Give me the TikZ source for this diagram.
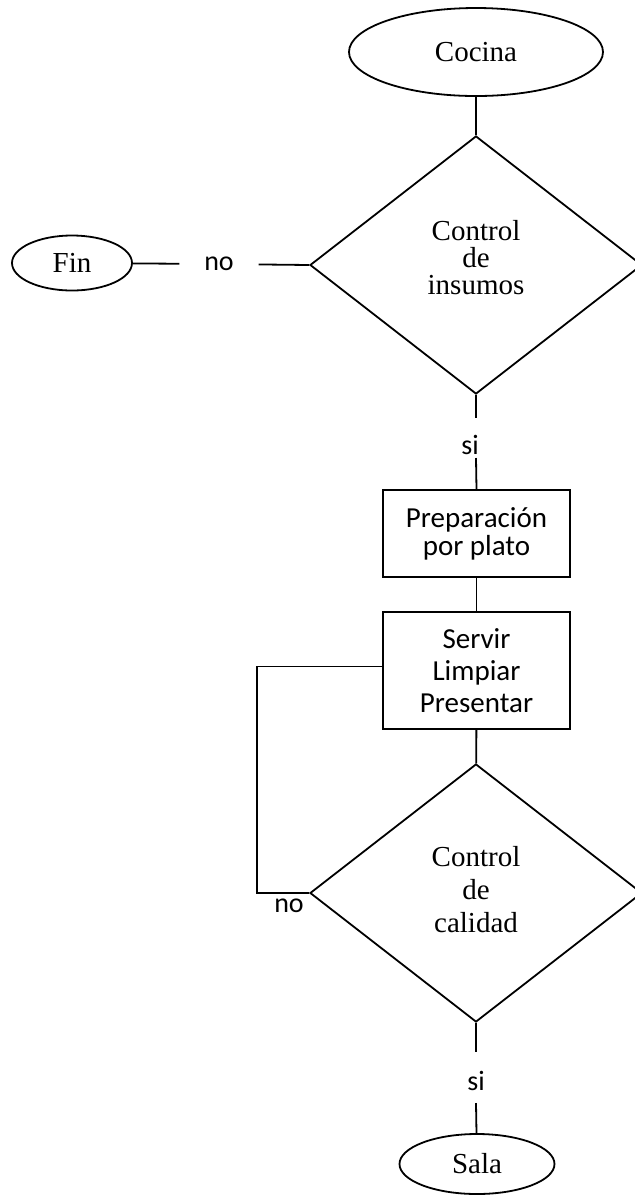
\documentclass[tikz,border=0pt]{standalone}
\usepackage{fontspec}
\setmainfont{Liberation Serif}
\newfontfamily\calibri{Carlito}
\usetikzlibrary{positioning,shapes.geometric}

\begin{document}
\begin{tikzpicture}[x=0.5pt,y=-0.5pt,line width=0.9pt,
  terminal/.style={draw,ellipse,inner sep=0pt,font=\fontsize{14.5}{17}\selectfont},
  decision/.style={draw,diamond,inner sep=0pt,minimum width=166pt,minimum height=129pt,align=center},
  process/.style={draw,rectangle,inner sep=0pt,minimum width=93.5pt,align=center},
  answer/.style={inner sep=0pt,font=\calibri\fontsize{14}{16}\selectfont}]
\useasboundingbox (0,0) rectangle (635,1196);

\node[terminal,minimum width=127pt,minimum height=44pt] (cocina) at (476,52) {Cocina};
\node[decision,text depth=8pt,font=\fontsize{14.5}{13.5}\selectfont] (insumos) at (476,265) {Control\\de\\insumos};
\node[terminal,minimum width=60pt,minimum height=27.5pt] (fin) at (72,263) {Fin};
\node[answer,inner xsep=12pt] (noA) at (219,264) {no};
\node[answer] (siA) at (470,445) {si};
\node[process,minimum height=43.5pt,font=\calibri\fontsize{14.5}{14}\selectfont] (prep) at (476.5,533.5) {Preparación\\por plato};
\node[process,minimum height=58.5pt,font=\calibri\fontsize{14.5}{16}\selectfont] (servir) at (476.5,670.5) {Servir\\Limpiar\\Presentar};
\node[decision,text depth=4pt,font=\fontsize{14.5}{16.5}\selectfont] (calidad) at (476,893) {Control\\de\\calidad};
\node[answer] (noB) at (289,906) {no};
\node[answer] (siB) at (476,1081) {si};
\node[terminal,minimum width=77.5pt,minimum height=30pt] (sala) at (477,1164) {Sala};

\coordinate (siAtop) at (476,418);
\coordinate (siAbot) at (476,458);
\coordinate (siBtop) at (476,1052);
\coordinate (siBbot) at (476,1103);

\draw (cocina) -- (insumos);
\draw (fin) -- (noA) -- (insumos.west);
\draw (insumos.south) -- (siAtop);
\draw (siAbot) -- (prep.north);
\draw (prep) -- (servir);
\draw (servir) -- (calidad);
% vuelta atras
\draw (calidad.west) -- ++(-52,0) |- ([yshift=2pt]servir.west);
\draw (calidad.south) -- (siBtop);
\draw (siBbot) -- (sala);

\end{tikzpicture}
\end{document}
